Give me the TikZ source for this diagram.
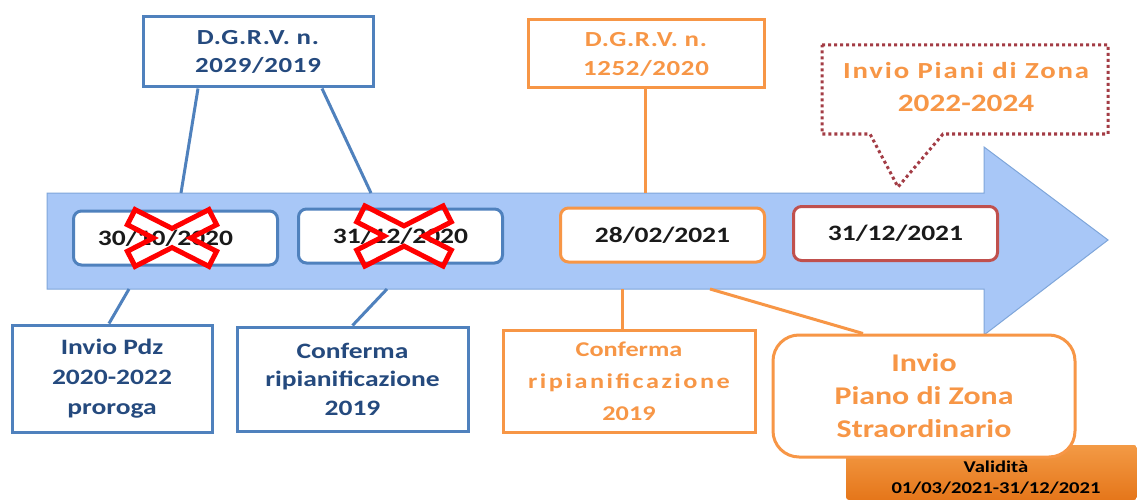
\documentclass[tikz,border=0pt]{standalone}
\usepackage{fontspec}
\setmainfont{Carlito}[FakeStretch=1.25]
\usetikzlibrary{calc}
\definecolor{bl}{HTML}{4F81BD}
\definecolor{bltxt}{HTML}{254A7E}
\definecolor{org}{HTML}{F79646}
\definecolor{drd}{HTML}{C0504D}
\definecolor{dotc}{HTML}{A33C45}
\definecolor{arrfill}{HTML}{A8C7F7}
\definecolor{arrline}{HTML}{7FA6DA}
\definecolor{orA}{HTML}{F39A45}
\definecolor{orB}{HTML}{E5761A}
\definecolor{datetxt}{HTML}{1A1A1A}
\begin{document}
\begin{tikzpicture}[x=1pt,y=-1pt,
  box/.style={draw, line width=3pt, fill=white, inner sep=0pt, align=center},
  datebox/.style={box, rounded corners=8pt, minimum width=204pt, minimum height=54pt,
     font=\bfseries\fontsize{22}{28}\selectfont, text=datetxt},
  bluebox/.style={box, draw=bl, text=bltxt},
  orgbox/.style={box, draw=org, text=org},
  bluelink/.style={draw=bl, line width=3pt},
  orglink/.style={draw=org, line width=3pt},
  xfill/.pic={
    \fill[white] (36.9,-28.4) -- (44.6,-13.3) -- (18.7,0) -- (44.6,13.3) -- (36.9,28.4) -- (0,9.55)
      -- (-36.9,28.4) -- (-44.6,13.3) -- (-18.7,0) -- (-44.6,-13.3) -- (-36.9,-28.4) -- (0,-9.55) -- cycle;
  },
  xline/.pic={
    \draw[red, line width=5pt, line join=miter] (36.9,-28.4) -- (44.6,-13.3) -- (18.7,0) -- (44.6,13.3) -- (36.9,28.4) -- (0,9.55)
      -- (-36.9,28.4) -- (-44.6,13.3) -- (-18.7,0) -- (-44.6,-13.3) -- (-36.9,-28.4) -- (0,-9.55) -- cycle;
  }]
\useasboundingbox (0,0) rectangle (1137,500);
\fill[white] (0,0) rectangle (1137,500);

% timeline arrow
\draw[arrline, fill=arrfill, line width=1pt] (47,193) -- (984,193) -- (984,147) -- (1108,240)
  -- (984,335) -- (984,289) -- (47,289) -- cycle;
\coordinate (t1) at (181,193);
\coordinate (t2) at (371,193);
\coordinate (t3) at (645,193);
\coordinate (b1) at (129,289);
\coordinate (b2) at (387,289);
\coordinate (b3) at (622,289);
\coordinate (b4) at (710,289);

% top boxes
\node[bluebox, minimum width=230pt, minimum height=70pt,
  font=\bfseries\fontsize{21.5}{28}\selectfont\addfontfeature{LetterSpace=3}]
  (d1) at (258,52) {D.G.R.V. n.\\2029/2019};
\node[orgbox, minimum width=236pt, minimum height=68pt,
  font=\bfseries\fontsize{21.5}{29}\selectfont\addfontfeature{LetterSpace=3}]
  (d2) at (646,54) {D.G.R.V. n.\\1252/2020};

% callout
\draw[dotc, line width=3pt, dash pattern=on 3pt off 3pt] (822,45) -- (1108,45) -- (1108,134)
  -- (943,134) -- (898,187) -- (870,134) -- (822,134) -- cycle;
\node[text=org, align=center, inner sep=0pt, font=\bfseries\fontsize{23}{33}\selectfont] (call) at (966,87)
  {{\addfontfeature{LetterSpace=8}Invio Piani di Zona}\\{\fontsize{25}{33}\selectfont 2022-2024}};

% connectors top
\draw[bluelink] ([xshift=-60pt]d1.south) -- (t1);
\draw[bluelink] ([xshift=64pt]d1.south) -- (t2);
\draw[orglink] ([xshift=-1pt]d2.south) -- (t3);

% crosses (white body under the boxes)
\pic at (172,238) {xfill};
\pic[scale=1.06] at (404,236) {xfill};

% date boxes
\node[datebox, draw=bl] (n1) at (175.5,238) {30/10/2020\hspace*{20pt}};
\node[datebox, draw=bl] (n2) at (400.5,236) {31/12/2020};
\node[datebox, draw=org] (n3) at (662.5,235) {28/02/2021};
\node[datebox, draw=drd] (n4) at (895.5,233.5) {31/12/2021};

% crosses (red outline on top)
\pic at (172,238) {xline};
\pic[scale=1.06] at (404,236) {xline};

% bottom boxes
\node[bluebox, minimum width=200pt, minimum height=107pt, font=\bfseries\fontsize{22}{30}\selectfont]
  (c1) at (112,378.5) {Invio Pdz\\2020-2022\\proroga};
\node[bluebox, minimum width=231pt, minimum height=104pt, font=\bfseries\fontsize{22}{28.5}\selectfont]
  (c2) at (352.5,379) {Conferma\\ripianificazione\\2019};
\node[orgbox, minimum width=252pt, minimum height=102pt, font=\bfseries\fontsize{21}{32}\selectfont]
  (c3) at (629,381) {Conferma\\{\addfontfeature{LetterSpace=12}ripianificazione}\\2019};

% validity bar
\node[inner sep=0pt, minimum width=291pt, minimum height=55pt, top color=orA, bottom color=orB,
  rounded corners=3pt] (val) at (991.5,472.5) {};
\node[text=black, align=center, inner sep=0pt, font=\bfseries\fontsize{16.5}{21}\selectfont]
  (valt) at (996,478) {Validità\\01/03/2021-31/12/2021};

\node[orgbox, rounded corners=26pt, minimum width=302pt, minimum height=122pt,
  font=\bfseries\fontsize{25.5}{33}\selectfont] (c4) at (924,396) {Invio\\Piano di Zona\\Straordinario};

% connectors bottom
\draw[bluelink] (b1) -- ([xshift=-3pt]c1.north);
\draw[bluelink] (b2) -- (c2.north);
\draw[orglink] (b3) -- (b3 |- c3.north);
\draw[orglink] (b4) -- ([xshift=-61pt]c4.north);
\end{tikzpicture}
\end{document}
